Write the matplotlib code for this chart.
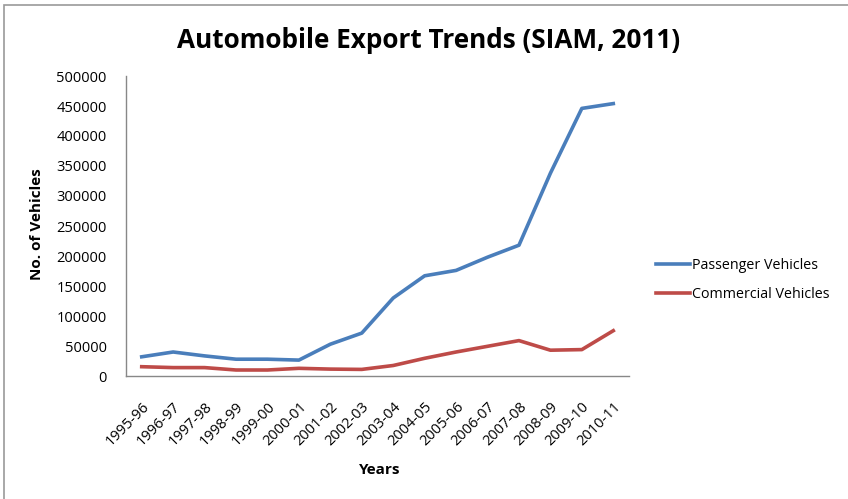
import matplotlib.pyplot as plt
from matplotlib.patches import Rectangle

years = ['1995-96', '1996-97', '1997-98', '1998-99', '1999-00', '2000-01', '2001-02', '2002-03',
         '2003-04', '2004-05', '2005-06', '2006-07', '2007-08', '2008-09', '2009-10', '2010-11']
passenger = [32000, 40000, 33500, 28000, 28000, 26500, 53000, 71500,
             130000, 167000, 176000, 198000, 218000, 338000, 446000, 454000]
commercial = [15500, 14000, 14000, 10000, 10000, 12800, 11500, 11000,
              17500, 29500, 40000, 49500, 59000, 43000, 44000, 75500]

plt.rcParams['font.family'] = ['Open Sans', 'DejaVu Sans']

fig = plt.figure(figsize=(8.48, 4.99), dpi=100)
W, H = 848, 499
ax = fig.add_axes([126 / W, 1 - 376 / H, (629 - 126) / W, (376 - 76) / H])

x = range(len(years))
ax.plot(x, passenger, color='#4a7ebb', lw=2.6, label='Passenger Vehicles')
ax.plot(x, commercial, color='#be4b48', lw=2.6, label='Commercial Vehicles')

ax.set_xlim(-0.5, len(years) - 0.5)
ax.set_ylim(0, 500000)
ax.set_yticks(range(0, 500001, 50000))
ax.set_xticks(list(x))
ax.set_xticklabels(years, rotation=45, ha='right', rotation_mode='anchor', fontsize=10.5)
ax.tick_params(axis='y', labelsize=10.5, length=0, pad=14)
ax.tick_params(axis='x', length=0, pad=17)

for s in ['top', 'right']:
    ax.spines[s].set_visible(False)
for s in ['left', 'bottom']:
    ax.spines[s].set_color('#888888')
    ax.spines[s].set_linewidth(1)

fig.text(429 / W, 1 - 40 / H, 'Automobile Export Trends (SIAM, 2011)', ha='center', va='center',
         fontsize=18.8, fontweight='bold')
fig.text(37 / W, 1 - 224 / H, 'No. of Vehicles', rotation=90, ha='center', va='center',
         fontsize=11, fontweight='bold')
fig.text(380 / W, 1 - 470 / H, 'Years', ha='center', va='center', fontsize=11, fontweight='bold')

ax.legend(loc='center left', bbox_to_anchor=(643 / W, 1 - 280 / H), bbox_transform=fig.transFigure,
          frameon=False, fontsize=10.3, handlelength=2.4, handletextpad=0.1, labelspacing=1.0)

fig.patches.append(Rectangle((4 / W, -0.1), 1.2, 1 - 5 / H + 0.1, transform=fig.transFigure,
                             fill=False, edgecolor='#999999', lw=1.2))

fig.savefig('out.png', dpi=100)
